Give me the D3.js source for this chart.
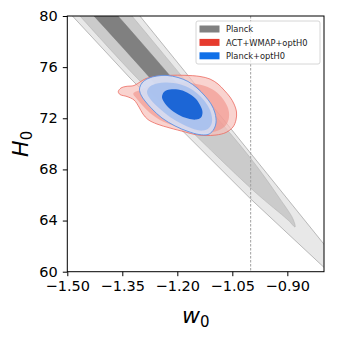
<!DOCTYPE html>
<html>
<head>
<meta charset="utf-8">
<script src="https://cdn.jsdelivr.net/npm/d3@7"></script>
<style>
body { margin: 0; background: #fff; }
svg { display: block; font-family: "DejaVu Sans", sans-serif; }
</style>
</head>
<body>
<div id="chart"></div>
<script>
// axis setup
var xDomain = [-1.5, -0.8];
var yDomain = [60, 80];
var xTicks = [-1.5, -1.35, -1.2, -1.05, -0.9];
var yTicks = [60, 64, 68, 72, 76, 80];
var wRef = -1.0;

var legendNames = ["Planck", "ACT+WMAP+optH0", "Planck+optH0"];
var legendColors = ["#808080", "#e63b2e", "#1070e8"];

// Planck band, three levels (w0, H0)
var planckOuter = [[-1.547,82.03],[-1.486,80.0],[-1.329,75.15],[-1.2017,71.47],[-1.0,65.69],[-0.802,60.39],[-0.729,58.41],
    [-0.729,59.58],[-0.802,62.22],[-1.0,69.26],[-1.179,75.64],[-1.302,80.0],[-1.359,82.03]];
var planckMid = [[-1.528,82.03],[-1.4654,80.0],[-1.310,75.15],[-1.179,71.47],[-0.988,66.23],[-0.898,64.04],[-0.879,63.50],
    [-0.8845,64.12],[-0.920,65.69],[-1.0,68.87],[-1.1654,74.52],[-1.3236,80.0],[-1.3836,82.03]];
var planckInner = [[-1.4926,82.03],[-1.4272,80.0],[-1.2936,75.78],[-1.2336,73.82],[-1.1981,72.80],
    [-1.1708,73.12],[-1.1927,74.37],[-1.2336,75.78],[-1.3617,80.0],[-1.4245,82.03]];

// ACT+WMAP+optH0
var actOuter = [[-1.361,74.08],[-1.3536,74.37],[-1.340,74.49],[-1.318,74.56],[-1.3017,74.84],[-1.2854,75.11],[-1.2608,75.27],
    [-1.220,75.36],[-1.179,75.36],[-1.1381,75.27],[-1.1109,75.07],[-1.089,74.68],[-1.0727,74.21],[-1.0563,73.66],[-1.0454,73.12],
    [-1.0386,72.49],[-1.04,71.87],[-1.0481,71.32],[-1.0672,70.89],[-1.0945,70.69],[-1.1245,70.65],[-1.1518,70.73],[-1.179,70.93],
    [-1.22,71.24],[-1.2554,71.55],[-1.280,71.90],[-1.2936,72.33],[-1.3045,72.88],[-1.318,73.43],[-1.3372,73.70],[-1.3563,73.86]];
var actInner = [[-1.32,73.94],[-1.3017,74.21],[-1.2745,74.52],[-1.22,74.76],[-1.1654,74.76],[-1.1245,74.52],[-1.0972,74.13],
    [-1.0754,73.51],[-1.0618,72.80],[-1.059,72.10],[-1.0672,71.47],[-1.089,71.04],[-1.1218,70.85],[-1.160,71.00],[-1.2063,71.40],
    [-1.2472,71.87],[-1.2745,72.41],[-1.2936,72.96],[-1.31,73.51]];

// Planck+optH0
var poOuter = [[-1.3031,74.29],[-1.2963,74.76],[-1.280,75.11],[-1.2554,75.31],[-1.2281,75.35],[-1.1981,75.19],[-1.171,74.88],
    [-1.1463,74.37],[-1.1245,73.74],[-1.108,73.12],[-1.0972,72.41],[-1.0945,71.63],[-1.1027,71.04],[-1.1163,70.73],[-1.1408,70.73],
    [-1.1708,70.97],[-1.2063,71.40],[-1.2418,72.02],[-1.269,72.73],[-1.2881,73.35],[-1.299,73.82]];
var poMid = [[-1.2827,74.06],[-1.2745,74.49],[-1.2554,74.72],[-1.2281,74.80],[-1.1927,74.66],[-1.1627,74.29],[-1.1381,73.74],
    [-1.1190,73.08],[-1.1081,72.41],[-1.1054,71.71],[-1.1136,71.24],[-1.130,71.04],[-1.1518,71.12],[-1.1845,71.51],
    [-1.22,72.10],[-1.25,72.80],[-1.2718,73.43]];
var poInner = [[-1.2418,73.66],[-1.2363,74.06],[-1.22,74.25],[-1.1981,74.25],[-1.1736,74.02],[-1.1518,73.59],[-1.1381,73.04],
    [-1.1313,72.49],[-1.1354,72.06],[-1.149,71.90],[-1.1708,71.98],[-1.1981,72.30],[-1.2227,72.80],[-1.2363,73.27]];

var margin = {left: 67.3, top: 16, right: 17, bottom: 67.3};
var W = 341, H = 339;
var pw = W - margin.left - margin.right, ph = H - margin.top - margin.bottom;

var svg = d3.select("#chart").append("svg").attr("width", W).attr("height", H);
var g = svg.append("g").attr("transform", "translate(" + margin.left + "," + margin.top + ")");

var x = d3.scaleLinear().domain(xDomain).range([0, pw]);
var y = d3.scaleLinear().domain(yDomain).range([ph, 0]);

svg.append("defs").append("clipPath").attr("id", "clip")
   .append("rect").attr("width", pw).attr("height", ph);

var plot = g.append("g").attr("clip-path", "url(#clip)");

var lin = d3.line().x(function(d){return x(d[0]);}).y(function(d){return y(d[1]);}).curve(d3.curveLinearClosed);
var smooth = d3.line().x(function(d){return x(d[0]);}).y(function(d){return y(d[1]);}).curve(d3.curveCatmullRomClosed.alpha(0.5));

// planck
plot.append("path").attr("d", lin(planckOuter)).attr("fill", "#e8e8e8").attr("stroke", "#aaaaaa").attr("stroke-width", 0.8);
plot.append("path").attr("d", smooth(planckMid)).attr("fill", "#cbcbcb").attr("stroke", "#b4b4b4").attr("stroke-width", 0.6);
plot.append("path").attr("d", smooth(planckInner)).attr("fill", "#808080").attr("stroke", "#777").attr("stroke-width", 0.5);

// ACT
plot.append("path").attr("d", smooth(actOuter)).attr("fill", "#f6c0bb").attr("fill-opacity", 0.7)
    .attr("stroke", "#ec6a60").attr("stroke-width", 0.8);
plot.append("path").attr("d", smooth(actInner)).attr("fill", "#f08a82").attr("fill-opacity", 0.55);

// Planck+optH0
plot.append("path").attr("d", smooth(poOuter)).attr("fill", "#d3dff7").attr("fill-opacity", 0.88)
    .attr("stroke", "#5a92e6").attr("stroke-width", 0.9);
plot.append("path").attr("d", smooth(poMid)).attr("fill", "#a6c0ee").attr("fill-opacity", 0.9);
plot.append("path").attr("d", smooth(poInner)).attr("fill", "#1c66d6");

// w = -1 reference
plot.append("line").attr("x1", x(wRef)).attr("x2", x(wRef)).attr("y1", 0).attr("y2", ph)
    .attr("stroke", "#a0a0a0").attr("stroke-width", 1).attr("stroke-dasharray", "2.5,1.5");

// axes
var xAxis = g.append("g").attr("transform", "translate(0," + ph + ")")
    .call(d3.axisBottom(x).tickValues(xTicks).tickFormat(d3.format(".2f")).tickSize(4.5).tickPadding(4.5));
var yAxis = g.append("g")
    .call(d3.axisLeft(y).tickValues(yTicks).tickFormat(d3.format("d")).tickSize(4.5).tickPadding(5));
[xAxis, yAxis].forEach(function(a) {
    a.select(".domain").remove();
    a.selectAll("text").attr("font-size", 14.5).attr("font-family", "DejaVu Sans").attr("fill", "#000");
    a.selectAll("line").attr("stroke", "#000").attr("stroke-width", 1);
});
yAxis.selectAll("text").attr("dy", "0.3em");
g.append("rect").attr("width", pw).attr("height", ph).attr("fill", "none").attr("stroke", "#000").attr("stroke-width", 1);

// axis labels
svg.append("text").attr("x", margin.left + pw / 2).attr("y", 323).attr("text-anchor", "middle")
   .attr("font-size", 22).attr("font-style", "italic")
   .html('w<tspan font-size="15" font-style="normal" dy="4">0</tspan>');
svg.append("text").attr("transform", "translate(28," + (margin.top + ph / 2) + ") rotate(-90)")
   .attr("text-anchor", "middle").attr("font-size", 22).attr("font-style", "italic")
   .html('H<tspan font-size="15" font-style="normal" dy="4">0</tspan>');

// legend
var lg = svg.append("g").attr("transform", "translate(196,21)");
lg.append("rect").attr("width", 124).attr("height", 43).attr("rx", 2)
  .attr("fill", "#fff").attr("fill-opacity", 0.8).attr("stroke", "#cccccc").attr("stroke-width", 0.8);
legendNames.forEach(function(n, i) {
    lg.append("rect").attr("x", 3.5).attr("y", 4.5 + i * 13.4).attr("width", 20).attr("height", 7).attr("fill", legendColors[i]);
    lg.append("text").attr("x", 30).attr("y", 11.3 + i * 13.4).attr("font-size", 8.3).attr("fill", "#222").text(n);
});
</script>
</body>
</html>
